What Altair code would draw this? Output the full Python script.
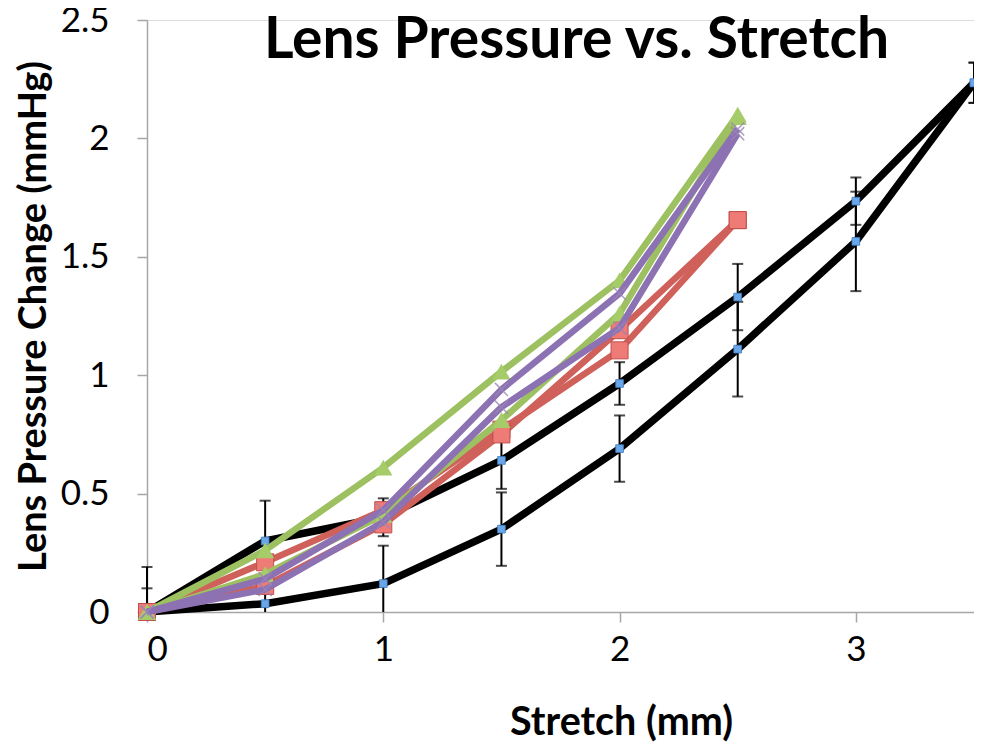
import altair as alt
import pandas as pd

# ---- data ----
stretch_black = [0, 0.5, 1, 1.5, 2, 2.5, 3, 3.5]
black_a = [0, 0.30, 0.40, 0.64, 0.965, 1.33, 1.735, 2.235]
black_a_err = [0.19, 0.17, 0.08, 0.12, 0.09, 0.14, 0.10, 0.085]
black_b = [0, 0.035, 0.12, 0.35, 0.69, 1.11, 1.565, 2.235]
black_b_err = [0.10, 0.06, 0.16, 0.155, 0.14, 0.20, 0.21, 0.085]

stretch_color = [0, 0.5, 1, 1.5, 2, 2.5]
red_a = [0, 0.21, 0.43, 0.77, 1.105, 1.655]
red_b = [0, 0.11, 0.37, 0.75, 1.19, 1.655]
green_a = [0, 0.26, 0.61, 1.015, 1.40, 2.10]
green_b = [0, 0.16, 0.41, 0.81, 1.26, 2.09]
purple_a = [0, 0.14, 0.43, 0.94, 1.345, 2.04]
purple_b = [0, 0.095, 0.38, 0.865, 1.20, 2.02]

x_ticks = [0, 1, 2, 3]
y_ticks = [0, 0.5, 1, 1.5, 2, 2.5]

rows = []
for name, ys, errs in [("black_a", black_a, black_a_err), ("black_b", black_b, black_b_err)]:
    for x, y, e in zip(stretch_black, ys, errs):
        rows.append({"series": name, "group": "black", "x": x, "y": y, "lo": y - e, "hi": y + e})
for name, grp, ys in [("red_a", "red", red_a), ("red_b", "red", red_b),
                      ("green_a", "green", green_a), ("green_b", "green", green_b),
                      ("purple_a", "purple", purple_a), ("purple_b", "purple", purple_b)]:
    for x, y in zip(stretch_color, ys):
        rows.append({"series": name, "group": grp, "x": x, "y": y, "lo": y, "hi": y})
df = pd.DataFrame(rows)

FONT = "Lato"
AXIS_GRAY = "#A6A6A6"

xs = alt.Scale(domain=[0, 3.5], nice=False, zero=False)
ys = alt.Scale(domain=[0, 2.5], nice=False, zero=False)

x_axis = alt.Axis(values=x_ticks, format="d", grid=False, domainColor=AXIS_GRAY, domainWidth=1.5,
                  tickColor=AXIS_GRAY, tickWidth=1.5, tickSize=10, labelFont=FONT,
                  labelFontSize=35, labelColor="black", labelPadding=10,
                  title="Stretch (mm)", titleFont=FONT, titleFontSize=39.5,
                  titleFontWeight="bold", titleColor="black",
                  titleX=474, titleY=110, titleAlign="center", titleBaseline="middle")
y_axis = alt.Axis(values=y_ticks, format="~g", grid=False, domainColor=AXIS_GRAY,
                  domainWidth=1.5, tickColor=AXIS_GRAY, tickWidth=1.5, tickSize=10,
                  labelFont=FONT, labelFontSize=35, labelColor="black", labelPadding=28,
                  title="Lens Pressure Change (mmHg)", titleFont=FONT, titleFontSize=38,
                  titleFontWeight="bold", titleColor="black",
                  titleX=-113, titleY=296, titleAlign="center", titleBaseline="middle")

base = alt.Chart(df)
X = alt.X("x:Q", scale=xs, axis=x_axis)
Y = alt.Y("y:Q", scale=ys, axis=y_axis)


def grp(g):
    return base.transform_filter(alt.datum.group == g)


black = grp("black").transform_calculate(lo_c="max(datum.lo, 0)")

black_lines = grp("black").mark_line(color="black", strokeWidth=7.5, strokeJoin="round").encode(
    x=X, y=Y, detail="series:N")
err_rules = black.mark_rule(color="black", strokeWidth=2).encode(
    x="x:Q", y="lo_c:Q", y2="hi:Q")
err_top = black.mark_tick(color="black", orient="horizontal", size=11,
                          thickness=2).encode(x="x:Q", y="hi:Q")
err_bot = black.transform_filter(alt.datum.lo >= 0).mark_tick(
    color="black", orient="horizontal", size=11, thickness=2).encode(x="x:Q", y="lo:Q")
blue_pts = grp("black").mark_point(shape="square", filled=True, size=60, color="#6AA6E8",
                                    stroke="#3F7FC4", strokeWidth=0.8, opacity=1).encode(x="x:Q", y="y:Q")

red_lines = grp("red").mark_line(color="#D0605A", strokeWidth=6.5, strokeJoin="round").encode(
    x="x:Q", y="y:Q", detail="series:N")
red_pts = grp("red").mark_point(shape="square", filled=True, size=290, color="#EE7B76",
                                 stroke="#C0504D", strokeWidth=1, opacity=1).encode(x="x:Q", y="y:Q")

green_lines = grp("green").mark_line(color="#9DC060", strokeWidth=6.5, strokeJoin="round").encode(
    x="x:Q", y="y:Q", detail="series:N")
green_pts = grp("green").mark_point(shape="triangle-up", filled=True, size=330, color="#A6CC6A",
                                     opacity=1).encode(x="x:Q", y="y:Q")

purple_lines = grp("purple").mark_line(color="#8D72B3", strokeWidth=6.5, strokeJoin="round").encode(
    x="x:Q", y="y:Q", detail="series:N")
purple_pts = grp("purple").mark_point(shape="M-1,-1L1,1M-1,1L1,-1", filled=False, size=170,
                                       stroke="#9A86B8", strokeWidth=1.5, opacity=0.8).encode(x="x:Q", y="y:Q")

chart = alt.layer(
    black_lines, err_rules, err_top, err_bot, blue_pts,
    red_lines, red_pts, green_lines, green_pts, purple_lines, purple_pts
).properties(
    width=827, height=592,
    autosize=alt.AutoSizeParams(type="none"),
    padding={"left": 139, "top": 12, "right": 0, "bottom": 130},
    title=alt.Title("Lens Pressure vs. Stretch", font=FONT, fontSize=57, fontWeight="bold",
                    color="black", anchor="middle", dx=16, dy=116, baseline="alphabetic"),
).configure_view(strokeWidth=0).configure(background="white")

chart.save("out.html", embed_options={"renderer": "svg", "actions": False})
